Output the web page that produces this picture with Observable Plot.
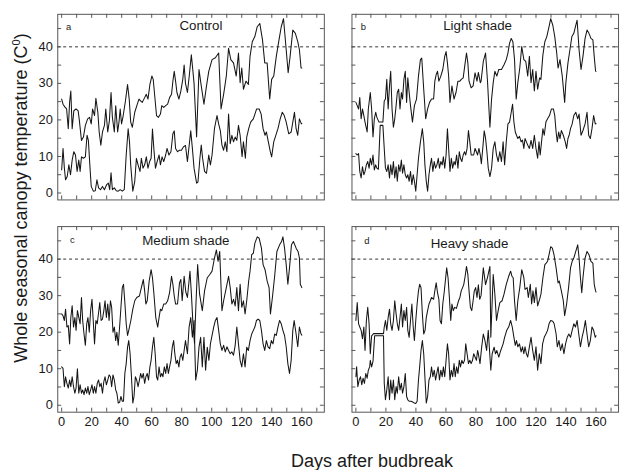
<!DOCTYPE html>
<html><head><meta charset="utf-8">
<script src="https://cdn.jsdelivr.net/npm/d3@7"></script>
<script src="https://cdn.jsdelivr.net/npm/@observablehq/plot@0.6"></script>
<style>
html,body{margin:0;padding:0;background:#fff;overflow:hidden;}
#wrap{position:relative;width:622px;height:470px;overflow:hidden;font-family:"Liberation Sans",Arial,sans-serif;color:#1a1a1a;}
#chart{position:absolute;left:0;top:0;}
#ytitle{position:absolute;left:-159px;top:188px;width:360px;height:20px;line-height:20px;font-size:18px;text-align:center;transform:rotate(-90deg);white-space:nowrap;}
#ytitle sup{font-size:11px;vertical-align:7px;line-height:0;}
#xtitle{position:absolute;left:222px;top:451px;width:300px;height:20px;line-height:20px;font-size:18px;text-align:center;white-space:nowrap;}
</style></head>
<body>
<div id="wrap">
  <div id="chart"></div>
  <div id="ytitle">Whole seasonal canopy temperature (C<sup>0</sup>)</div>
  <div id="xtitle">Days after budbreak</div>
</div>
<script>
const panelNames = ["Control", "Light shade", "Medium shade", "Heavy shade"];
const panelLetters = ["a", "b", "c", "d"];
const xTickLabels = [0, 20, 40, 60, 80, 100, 120, 140, 160];
const yTickLabels = [0, 10, 20, 30, 40];
const xMinorTicks = [0, 10, 20, 30, 40, 50, 60, 70, 80, 90, 100, 110, 120, 130, 140, 150, 160, 170];
const yMinorTicks = [0, 5, 10, 15, 20, 25, 30, 35, 40, 45];
const threshold = [40];

// [day after budbreak, temperature]
const controlMax = [[0,25.7],[0.9,24.3],[2.2,23.5],[3.3,23],[4.4,17.6],[5.3,24.8],[6.1,27.9],[7,17.6],[8.1,22.5],[9.6,23],[11,22.5],[11.8,19.8],[13.2,14.4],[14.5,15.3],[15.8,18.5],[17.3,20.3],[18.6,20.7],[19.7,18.9],[20.6,23],[21.9,21.2],[22.8,25.9],[24.1,22.1],[25,16.7],[26.1,13.1],[27.2,16.7],[28.5,18.5],[29.4,23],[30.7,16.7],[31.8,19.8],[32.9,27.5],[33.8,20.7],[35.1,16.7],[36,23.9],[37.3,16.7],[38.2,19.4],[39,23],[39.9,18.9],[41,21.2],[42.5,25.2],[43.9,29.7],[45,25.7],[46,19.4],[47.1,18],[48.7,22.1],[50.4,24.3],[51.5,25.7],[52.6,25.2],[53.7,24.8],[55.3,26.1],[56.4,27],[57.5,25.7],[58.8,29.7],[60.1,32],[61,31.1],[61.8,27.5],[63.2,21.2],[64.5,20.7],[65.8,21.6],[66.7,23.9],[68,23.4],[69.3,23.9],[70.6,24.3],[71.9,26.1],[73.2,27],[74.1,30.6],[75,33.3],[75.9,30.6],[76.8,27.5],[78.1,25.7],[79.4,27.9],[80.7,31.1],[81.6,35],[82.5,30],[83.8,27.5],[85,32],[86.4,37.8],[87.3,34],[88.2,30],[89.9,15.3],[91.5,33.8],[93,29.3],[94.8,24.3],[96.5,29.3],[98,33.3],[100.2,36.5],[102.4,37],[104.6,38.3],[106.2,23],[107.9,27],[109.7,32],[111.2,39.6],[112.7,36.5],[114.5,35.6],[116.3,32],[117.8,38.3],[118.9,30.2],[120,34.2],[121.1,28.4],[122.8,30.6],[124.4,29.7],[125.5,37.4],[127,41.4],[128.7,42.8],[130.3,45.5],[132,46.4],[133.8,41.9],[135.3,35.6],[136.9,35.6],[138.6,25.7],[139.9,31.1],[141.3,32],[143,37.4],[144.8,41.9],[146.3,45.5],[147.8,47.7],[149.6,39.2],[150.9,32.9],[152.2,37.4],[154,44.6],[155.7,43.7],[157.3,41.4],[158.4,39.2],[159.5,34.2],[160,34.2]];
const controlMin = [[0,6.3],[0.9,12.2],[1.8,6.8],[2.6,3.6],[3.7,4.5],[4.8,7.7],[5.9,5],[7,9],[8.1,11.3],[9.2,10.4],[10.3,5.9],[11.4,9],[12.3,5.9],[13.2,9.9],[14.5,9.5],[15.8,9.9],[16.9,15.8],[17.8,14.4],[18.9,6.8],[19.7,1.8],[21.1,0.5],[22.4,0.6],[23.5,3.6],[24.6,1.4],[25.9,0.9],[27.2,1.8],[28.5,0.9],[30,2.3],[31.1,2.7],[32,0.9],[32.9,5.5],[33.8,0.9],[35.1,1.4],[36.4,0.6],[37.7,0.5],[39,0.9],[40.4,0.5],[41.7,0.9],[43,10.4],[44.3,17.6],[45.2,14],[46,7.7],[47.4,0.5],[48.7,3.2],[49.8,9.5],[50.9,7.7],[52.2,5.9],[53.1,9.5],[54.2,6.8],[55.3,7.7],[56.4,9.9],[57.5,6.8],[58.6,8.6],[59.6,9.5],[60.5,17.5],[61.4,12.2],[62.5,6.8],[63.6,8.6],[64.9,10.4],[65.8,7.7],[66.9,9.9],[68,8.6],[69.3,10.4],[70.2,12.2],[71.5,10.4],[72.8,11.3],[74.1,16.2],[75,17],[75.9,12.2],[77.2,11.3],[78.5,11.7],[79.8,11.7],[81.1,12.6],[82.5,13],[83.8,8.6],[86,17],[87.1,12.2],[88.2,6.8],[89.9,2.7],[90.8,3],[92.1,9.5],[93,13.1],[93.9,9.5],[95.2,5.9],[96.5,5.4],[98,10.4],[99.1,7.7],[100.2,10.4],[101.8,17.6],[103.5,21.2],[104.6,18.9],[105.7,17.1],[106.8,13.1],[107.9,11.7],[109,14],[110.1,11.3],[111.2,21.6],[112.3,13.5],[113.4,15.8],[114.5,14],[115.6,15.3],[116.7,14.4],[117.8,18.5],[118.9,15.8],[120.2,9.9],[121.1,14],[122.4,9.5],[123.3,15.3],[124.6,17.6],[125.9,19.4],[127.7,20.3],[129.9,23],[131.6,23],[132.9,21.6],[134.2,17.6],[135.5,15.8],[136.4,16.7],[137.7,14],[139,11.3],[139.9,9.9],[141.3,14],[143,16.2],[144.1,17.6],[145.6,20.3],[147,22.1],[148.3,21.2],[149.6,19.4],[151.3,16.2],[152.9,16.7],[154,19.4],[155.1,22.1],[156.2,17.6],[157.3,15.8],[158.4,20.3],[159.7,18.9],[160,19]];
const lightMax = [[0,24.8],[0.9,23.9],[1.8,23],[2.6,26.1],[3.5,20.3],[4.4,23],[5.3,21.2],[6.1,19.4],[7.5,16.7],[8.3,23],[9.6,27.5],[10.5,23],[11.4,15.3],[12.3,20.3],[13.2,22.1],[14,20.7],[15.4,19.4],[16.7,19.4],[18,19.4],[18.9,25.2],[19.7,25.7],[20.6,31.1],[21.5,23],[22.4,29.3],[23.2,33.3],[24.1,23],[25,18],[25.9,20.3],[26.8,23.9],[27.6,27.5],[28.5,28.4],[29.4,23],[30.3,27.5],[31.1,25.7],[32,31.1],[32.9,33.3],[33.8,24.8],[34.6,31.5],[35.5,27.5],[36.4,23.9],[37.7,19.4],[39,23.9],[40.4,25.7],[41.7,32],[43,36.5],[43.9,36.9],[45.2,28.4],[46.5,20.3],[47.8,23],[49.1,24.8],[50.4,25.7],[51.8,25.7],[52.6,30.6],[53.5,32.4],[54.4,33.3],[55.3,30.6],[56.6,32],[57.9,33.8],[59.2,37.4],[60.1,38.7],[61,35.6],[61.8,32],[62.7,24.8],[64,29.3],[65.4,25.7],[66.7,27.5],[68,30.6],[69.3,30.6],[70.2,31.1],[71.5,31.5],[72.8,35.6],[73.7,38.3],[74.6,35.6],[75.4,30.6],[76.8,28.8],[78.1,29.3],[79.4,32.9],[80.7,30.6],[81.6,33],[82.9,30.2],[83.4,30.6],[84.9,36],[86.4,38.3],[87.7,30.6],[89.3,18],[90.4,25.7],[91.5,30.2],[92.6,33.3],[93.9,32],[95.2,33.8],[97,33.8],[98.7,35.1],[100.2,36.5],[101.3,38.3],[102.4,41],[103.5,42.3],[104.6,41.4],[105.7,36.5],[106.8,25.7],[107.9,30.2],[109.2,34.2],[110.5,40.1],[111.9,36.5],[113.2,36],[114.5,32],[115.6,37.4],[116.7,30.2],[117.8,33.8],[118.9,27.9],[120,33.3],[121.1,28.4],[122.4,31.5],[123.3,31.1],[124.6,37.8],[125.9,41.4],[127.2,42.8],[128.7,45.5],[129.8,47.7],[131.2,45.9],[132.5,42.8],[133.8,38.3],[134.7,34.2],[136,36.5],[137.5,32],[139.1,24.8],[139.9,30.2],[141.3,35.6],[142.6,39.2],[143.9,42.8],[145.2,43.7],[146.5,45.9],[147.4,47.3],[148.7,39.2],[150,33.8],[151.3,37.4],[152.7,42.3],[154,44.6],[155.3,43.7],[156.6,42.3],[157.9,41.9],[158.8,37.4],[159.7,33.3],[160,33.3]];
const lightMin = [[0,10.8],[0.9,10.4],[1.8,10.8],[2.6,5.9],[3.5,4.1],[4.4,7.2],[5.3,5],[6.1,5.9],[7,7.7],[7.9,8.6],[8.8,6.8],[9.6,9.5],[10.5,7.7],[11.4,10.4],[12.3,6.3],[13.2,7.7],[14,6.8],[15,6.5],[16.2,18.5],[18,18.5],[18.9,12.2],[19.7,6.8],[20.6,5.9],[21.5,7.7],[22.4,4.1],[23.2,7.7],[24.1,5],[25,8.6],[25.9,4.1],[26.8,7.2],[27.6,3.2],[28.5,7.7],[29.4,5.9],[30.3,9],[31.1,5.4],[32,7.7],[32.9,5],[33.8,4.1],[34.6,5],[35.5,3.2],[36.4,5.9],[37.3,2.3],[38.2,5],[39,3.2],[39.9,0.5],[40.8,5],[41.7,9.5],[43,14],[44.3,17.6],[45.2,14],[46,7.7],[46.9,3.2],[47.8,0.5],[48.7,5],[49.6,7.7],[50.4,9.5],[51.3,5.9],[52.2,8.6],[53.1,6.8],[54,7.7],[54.9,9.5],[55.7,6.8],[56.6,8.6],[57.5,7.7],[58.3,9.9],[59.2,6.8],[60.1,10.4],[61,17.6],[61.8,12.2],[62.7,5.9],[63.6,9.5],[64.5,6.8],[65.4,8.6],[66.2,7.7],[67.1,10.4],[68,6.8],[68.9,11.3],[69.7,9.5],[70.6,8.6],[71.5,10.4],[72.4,11.3],[73.2,10.4],[74.1,12.2],[75,17.1],[75.9,14],[76.8,10.4],[77.7,10.4],[78.5,10.4],[79.4,12.2],[80.3,11.3],[81.1,10.4],[82,12.2],[82.9,10.4],[83.6,8],[84.7,13],[85.5,17],[86.4,15],[87.3,11.3],[88.2,6.8],[89.3,4.5],[90.4,6.8],[91.5,12.2],[92.6,14],[93.7,10.4],[94.8,8.6],[95.9,11.3],[97,8.6],[98.1,14],[99.1,7.7],[100.2,14],[101.3,18.9],[102.4,19.4],[103.5,22.1],[104.4,24.3],[105.3,19.4],[106.2,16.7],[107,15.8],[107.9,14.9],[109,15.5],[110.1,14],[111,14.5],[111.9,12.2],[112.7,14.9],[113.6,14],[114.5,13.1],[115.6,12.2],[116.7,14.4],[117.8,12.2],[118.9,15.8],[120,12.2],[121.1,9.5],[122,14],[122.8,10.4],[123.7,14],[124.6,17.6],[125.5,15.8],[126.6,19.4],[127.7,20.3],[129,21.2],[130.3,23],[131.6,23],[132.5,21.2],[133.4,16.7],[134.2,14],[135.1,16.7],[136,14.9],[136.9,17.1],[138.2,15.8],[139.5,14],[140.4,12.2],[141.3,14.9],[142.1,15.8],[143,17.6],[144.1,18.9],[145.2,21.2],[146.5,22.1],[147.8,20.3],[148.7,21.6],[150,15.8],[151.3,17.1],[152.7,18.9],[154,22.1],[155.1,15.8],[156.2,14.9],[157.3,17.6],[158.4,21.2],[159.5,18.9],[160,19]];
const mediumMax = [[0,25],[0.9,24.5],[1.8,23.2],[2.6,26.3],[3.5,21.4],[4.4,21.8],[5.3,16.8],[6.1,24],[7,27.2],[7.9,21.4],[8.8,24],[9.6,20.5],[10.5,25.9],[12.3,22.3],[13.2,29.5],[14,23.2],[14.9,19.5],[15.8,16.4],[16.7,22.3],[17.5,24],[18.4,20],[19.3,25.9],[20.2,29],[21.1,22.7],[21.9,16.8],[22.8,23.2],[23.7,22.3],[24.6,25.4],[25.4,28.1],[26.3,23.2],[27.2,23.6],[28.1,25.9],[28.9,28.6],[29.8,24],[30.7,27.7],[31.6,23.2],[32.5,28.6],[33.3,26.8],[34.2,20],[35.1,21.4],[36,17.7],[36.8,20],[37.7,16.4],[38.6,21.4],[39.5,26.8],[40.4,32.2],[41.2,33.1],[42.1,28.1],[43,22.3],[43.9,19.1],[44.7,20.5],[46.1,23.2],[47.4,26.3],[48.7,28.6],[50,29.5],[51.8,29.9],[53.1,32.2],[54.4,34.4],[55.3,31.3],[56.1,27.7],[57,28.6],[58.3,34],[59.6,37.1],[60.5,34.9],[61.4,30.8],[62.7,24],[64,21.4],[64.9,24],[65.8,26.3],[66.7,25.9],[68,27.7],[69.3,27.7],[70.6,28.6],[71.9,30.8],[73.2,35.3],[74.1,33.1],[75,29.9],[75.9,27.7],[77.2,27.7],[78.5,33.5],[79.4,34.4],[80.3,28.6],[81.6,35.3],[82.7,31],[83.8,29.5],[85.5,36.7],[86.5,30],[87.5,22],[88.5,17],[89.5,28],[90.6,38.5],[91.9,30.4],[93.7,25.9],[95.2,31.3],[97,34.9],[98.7,35.8],[100.2,36.7],[101.8,40.3],[103.1,42.5],[104.2,39.4],[105.3,42.1],[106.2,32.2],[106.8,25.9],[107.9,28.6],[109.7,32.2],[111.2,35.3],[112.3,32.2],[113.4,27.7],[114.5,29],[115.6,27.2],[116.7,32.2],[117.8,25.9],[118.9,33.1],[120,26.8],[121.1,28.6],[122.2,25],[123.3,28.6],[124.6,34],[125.5,36.7],[126.6,41.2],[127.7,41.6],[128.7,44.3],[130.3,46.1],[131.6,45.7],[133.1,43],[134.2,38.5],[135.5,37.1],[136.9,34],[138.2,32.2],[139.1,25],[140.4,29.5],[141.9,35.3],[143.4,42.1],[145.2,43.9],[146.5,44.8],[147.4,46.1],[148.5,43],[149.6,38.5],[150.7,33.1],[151.8,37.6],[153.1,43.9],[154.4,44.8],[156.2,43],[157.5,42.1],[158.4,40.3],[159,33.1],[160,32.2]];
const mediumMin = [[0,10.5],[0.9,10.1],[1.8,5.1],[2.6,7.8],[3.5,6],[4.4,4.7],[5.3,6.9],[6.1,5.1],[7,7.8],[7.9,5.1],[8.8,3.3],[9.6,4.7],[10.5,10],[11.4,3.3],[12.3,5.6],[13.2,3.3],[14,4.2],[14.9,2.9],[15.8,4.7],[16.7,3.3],[17.5,5.1],[18.4,2.9],[19.3,4.2],[20.2,5.6],[21.1,3.3],[21.9,5.1],[22.8,3.3],[23.7,6],[24.6,6.9],[25.4,5.1],[26.3,6],[27.2,3.3],[28.1,6.5],[28.9,7.8],[29.8,5.6],[30.7,6.9],[31.6,8.3],[32.5,7.8],[33.3,5.1],[34.2,8.3],[35.1,6.9],[36,4.2],[36.8,3.3],[37.7,0.6],[38.6,0.8],[39.5,2.4],[40.4,1.1],[41.2,1.1],[42.1,8.7],[43,11.4],[43.9,15.9],[44.7,17.7],[45.6,14.1],[46.5,7.8],[47.4,0.6],[48.2,2.4],[49.1,7.8],[50,6.9],[50.9,5.1],[51.8,6.9],[52.6,8.7],[53.5,7.4],[54.4,8.7],[55.3,6],[56.1,7.8],[57,8.7],[57.9,6.9],[58.8,10.5],[59.6,12.3],[60.5,15.9],[61.4,18.6],[62.3,14.1],[63.2,7.8],[64,6.9],[64.9,10.5],[65.8,7.8],[66.7,8.7],[67.5,7.8],[68.4,10.5],[69.3,8.7],[70.2,11.4],[71.1,8.7],[71.9,10.5],[72.8,12.3],[73.7,15.9],[74.6,17.7],[75.4,14.1],[76.3,11.4],[77.2,12.3],[78.1,10.5],[78.9,13.2],[79.8,14.1],[80.7,12.3],[81.6,15],[82.5,17.7],[83.8,14.1],[84.9,21.4],[86,24],[87.1,18.6],[88.2,23.2],[89.3,6.9],[90.4,9.6],[91.5,15.9],[92.6,18.6],[93.7,10.5],[94.8,18.6],[95.9,9.6],[97,15.9],[98.1,12.3],[99.1,16.8],[100.2,19.1],[101.3,21.4],[102.4,23.2],[103.5,24],[104.6,20.5],[105.7,16.8],[106.8,15],[107.9,16.4],[109,14.6],[110.1,16],[111.2,15],[112.3,14.1],[113.4,14.6],[114.5,13.7],[115.6,16.4],[116.7,21.4],[117.8,16.8],[118.9,12.3],[120,10.5],[121.1,14.1],[122.2,10.5],[123.3,15.9],[124.4,15],[125.5,17.7],[126.6,19.5],[127.7,20.5],[128.7,21.4],[129.8,23.2],[130.9,23.6],[132,23.2],[133.1,20.5],[134.2,16.8],[135.3,15],[136.4,17.7],[137.5,16],[138.6,15.5],[139.7,17.7],[140.8,16.8],[141.9,19.5],[143,19.1],[144.1,21.4],[145.2,23.2],[146.3,22.3],[147.4,20.5],[148.5,19.1],[149.6,16],[150.7,11.4],[151.8,8.7],[152.9,12.3],[154,20.5],[154.9,23.2],[156.2,19.5],[157.3,16],[158.4,21.4],[159.5,19.5],[160,19.2]];
const heavyMax = [[0,23.2],[0.9,28.1],[1.8,22.3],[2.6,21.4],[3.5,20.5],[4.4,18.2],[5.3,21.4],[6.1,15],[7,23.2],[7.9,26.8],[8.8,22.3],[9.6,14.1],[10.5,19],[11.8,19.6],[18.4,19.6],[18.9,21.4],[19.7,23.2],[20.6,20.5],[21.5,24],[22.4,26.3],[23.2,22.3],[24.1,20.5],[25,23.2],[25.9,28.6],[26.8,25],[27.6,22.3],[28.5,20.5],[29.4,24],[30.3,27.7],[31.1,21.4],[32,25.9],[32.9,23.2],[33.8,26.8],[34.6,20.5],[35.5,18.6],[36.4,23.2],[37.3,27.7],[38.2,21.4],[39,17.7],[39.9,23.2],[40.8,27.7],[41.7,31.3],[42.5,33.1],[43.4,32.2],[44.3,25],[45.2,19.5],[46.1,20.5],[46.9,24],[47.8,25.9],[48.7,27.7],[49.6,28.6],[50.4,29.5],[51.8,29],[52.6,31.3],[53.5,33.5],[54.4,30.8],[55.3,29],[56.1,23.2],[57,22.3],[57.9,27.7],[58.8,30.8],[59.6,34],[60.5,37.6],[61.4,34.9],[62.3,29.5],[63.2,23.2],[64,27.7],[64.9,25.9],[65.8,26.8],[67,26.5],[68.4,28.6],[69.3,29.5],[70.2,31.3],[71.1,32.2],[71.9,33.1],[72.8,35.3],[73.7,38],[74.6,35.8],[75.4,31.3],[76.3,26.8],[77.2,25.9],[78.1,28.6],[78.9,31.3],[79.8,32.2],[80.7,29.5],[81.6,33],[82.5,29],[83.4,30],[84.9,37.6],[86.4,33],[87.7,35],[89.3,38],[89.9,18.6],[91.5,35.8],[92.6,30.4],[93.7,23.2],[94.8,25.9],[95.9,28.1],[97.4,28.6],[98.7,30.4],[100.2,33.1],[101.8,35.3],[103.1,36.7],[104,35.3],[104.8,34.9],[105.7,28.6],[106.8,23.2],[107.9,28.6],[109.2,32.2],[110.5,37.1],[111.9,34.9],[112.7,31.7],[114.1,32.2],[114.9,29.5],[116.2,33.1],[117.1,27.7],[118,31.3],[118.9,28.1],[120,32.2],[121.1,27.2],[122.4,29],[123.3,30.4],[124.6,34.9],[125.9,38.5],[126.8,38.9],[127.7,39.4],[128.7,41.2],[129.8,43.4],[130.9,43],[132,41.2],[133.4,37.6],[134.7,33.5],[135.5,34],[136.9,31.3],[138.2,28.6],[139.1,24.5],[140.4,27.7],[141.7,32.2],[143,37.6],[144.1,39.4],[145.2,40.3],[146.5,42.1],[147.8,43.9],[148.7,40.3],[149.6,34.9],[150.5,30.8],[151.3,34.9],[152.7,40.3],[154,42.1],[155.3,41.2],[156.6,39.4],[157.9,38.9],[158.8,33.1],[159.7,31.3],[160,31]];
const heavyMin = [[0,7.8],[0.5,10.5],[1.3,5.1],[2.2,6.9],[3.1,7.8],[3.9,5.6],[4.8,7.4],[5.7,6],[6.6,8.7],[7.5,7.4],[8.3,9.6],[9.2,10.5],[9.6,12.3],[10.5,10.5],[11.4,12],[12.5,19],[18.4,19],[18.9,6],[19.7,1.5],[20.6,4.2],[21.5,7.8],[22.4,1.5],[23.2,6.9],[24.1,3.3],[25,6.9],[25.9,1.5],[26.8,5.1],[27.6,3.3],[28.5,7.8],[29.4,4.2],[30.3,6],[31.1,3.3],[32,5.1],[32.9,8.7],[33.8,2.4],[34.6,1.5],[35.5,1.1],[36.8,1.1],[38.2,0.8],[39,0.6],[39.9,0.5],[40.8,1.1],[41.7,6.9],[42.5,10.5],[43.4,15],[44.3,17.7],[45.2,14.1],[46.1,6.9],[46.9,0.6],[47.8,2.4],[48.7,6.9],[49.6,7.8],[50.4,10.5],[51.3,7.8],[52.2,9.6],[53.1,6.9],[53.9,8.7],[54.8,10.5],[55.7,6.9],[56.6,9.6],[57.5,7.8],[58.3,10.5],[59.2,7.8],[60.1,12.3],[61,16.8],[61.8,14.1],[62.7,6.9],[63.6,9.6],[64.5,7.8],[65.4,11.4],[66.2,7.8],[67.1,10.5],[68,8.7],[68.9,12.3],[69.7,10.5],[70.6,12.3],[71.5,11.4],[72.4,12.3],[73.2,16.8],[74.1,14.1],[75,11.4],[75.9,12.3],[76.8,11.4],[77.7,12.3],[78.5,14.1],[79.4,13.2],[80.3,12.3],[81.1,15],[81.6,14.1],[82.7,11.4],[83.8,15.9],[84.9,19.5],[86,17.7],[87.1,15],[88.2,20.5],[89.9,9.6],[90.8,14.1],[92.1,15.9],[93,14.1],[93.9,15],[95.2,13.2],[96.5,15],[98.1,16.8],[99.1,18.6],[100.5,20.5],[101.8,21.4],[103.1,23.2],[104.2,21.4],[105.3,18.6],[106.2,16.4],[107,17.7],[107.9,16],[109,16.8],[110.1,14.6],[111,16],[111.9,14.1],[112.7,16],[113.6,14.1],[114.5,13.2],[115.6,16],[116.7,18.6],[117.8,15],[118.9,12.3],[120,16],[121.1,9.6],[122.2,14.1],[123.3,11.4],[124.4,16.8],[125.5,18.6],[126.6,19.5],[127.7,20.5],[128.7,22.3],[129.8,23.2],[131.2,23],[132.1,22.3],[133.4,19.5],[134.2,16],[135.3,17.7],[136.4,15],[137.5,16.8],[138.6,14.1],[139.7,16.8],[140.8,18.6],[141.9,19.5],[143,18.6],[144.1,20.5],[145.2,22.3],[146.3,21.4],[147.4,23.2],[148.5,19.5],[149.6,16],[150.7,18.6],[151.8,20.5],[152.9,23.2],[154,19.5],[155.1,16],[156.2,17.7],[157.3,21.4],[158.4,20.5],[159.5,18.6],[160,19]];

// ---- layout (not data) ----
const X_DOMAIN = [-2.6, 175];
const Y_DOMAIN = [-1.9, 48.9];
const TICK_X = 2.6;   // ~4px
const TICK_Y = 1.1;   // ~4px
const titlePos = [[92.8, 45.9], [81.1, 45.8], [82.7, 44.9], [75.7, 44.2]];
const letterPos = [[4.7, 45.5], [5.0, 45.3], [7.2, 45.2], [7.4, 45.0]];

const panelSeries = [[controlMax, controlMin], [lightMax, lightMin], [mediumMax, mediumMin], [heavyMax, heavyMin]];
const lineRows = panelSeries.flatMap((pair, i) => pair.flatMap((s, j) =>
  s.map(([day, temp]) => ({day, temp, series: i * 2 + j, col: i % 2, row: Math.floor(i / 2)}))));
const panelRows = panelNames.map((name, i) => ({
  name, letter: panelLetters[i], col: i % 2, row: Math.floor(i / 2),
  tx: titlePos[i][0], ty: titlePos[i][1], lx: letterPos[i][0], ly: letterPos[i][1]
}));

const frameColor = "#555";
const chart = Plot.plot({
  width: 630, height: 470,
  marginLeft: 58, marginRight: 4, marginTop: 14, marginBottom: 52,
  style: {fontFamily: "'Liberation Sans', Arial, sans-serif", fontSize: "13px", color: "#1a1a1a", background: "#fff"},
  fx: {domain: [0, 1], paddingInner: 28 / 298, paddingOuter: 0, axis: null},
  fy: {domain: [0, 1], paddingInner: 27 / 215.5, paddingOuter: 0, axis: null},
  x: {domain: X_DOMAIN},
  y: {domain: Y_DOMAIN},
  marks: [
    Plot.ruleY(threshold, {stroke: "#333", strokeWidth: 1, strokeDasharray: "3,3"}),
    Plot.line(lineRows, {x: "day", y: "temp", z: "series", fx: "col", fy: "row", stroke: "#151515", strokeWidth: 1.05}),
    Plot.ruleX(xMinorTicks, {x: d => d, y1: Y_DOMAIN[1], y2: Y_DOMAIN[1] - TICK_Y, stroke: frameColor}),
    Plot.ruleX(xMinorTicks, {x: d => d, y1: Y_DOMAIN[0], y2: Y_DOMAIN[0] + TICK_Y, stroke: frameColor}),
    Plot.ruleY(yMinorTicks, {y: d => d, x1: X_DOMAIN[0], x2: X_DOMAIN[0] + TICK_X, stroke: frameColor}),
    Plot.ruleY(yMinorTicks, {y: d => d, x1: X_DOMAIN[1], x2: X_DOMAIN[1] - TICK_X, stroke: frameColor}),
    Plot.frame({stroke: frameColor, strokeWidth: 1}),
    Plot.text(panelRows, {x: "tx", y: "ty", text: "name", fx: "col", fy: "row", fontSize: 13.5, fill: "#1a1a1a"}),
    Plot.text(panelRows, {x: "lx", y: "ly", text: "letter", fx: "col", fy: "row", fontSize: 9.5, fill: "#1a1a1a"}),
    Plot.axisX({ticks: xTickLabels, tickSize: 0, tickPadding: 5, fontSize: 13, label: null}),
    Plot.axisY({ticks: yTickLabels, tickSize: 0, tickPadding: 5, fontSize: 13, label: null})
  ]
});
document.getElementById("chart").appendChild(chart);
</script>
</body></html>
